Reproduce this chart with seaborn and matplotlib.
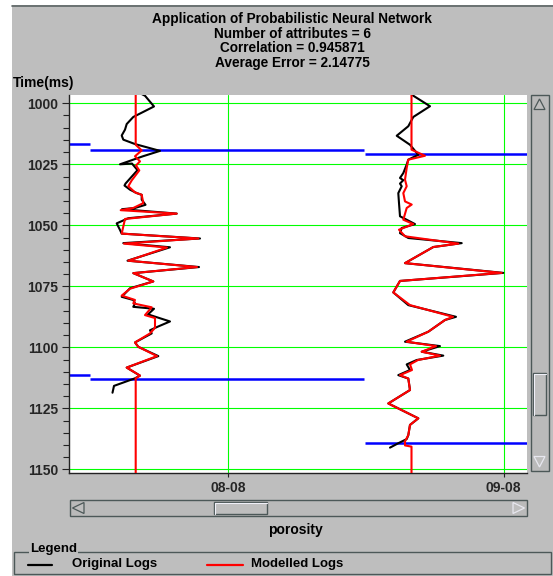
import numpy as np
import pandas as pd
import seaborn as sns
import matplotlib
matplotlib.use("Agg")
import matplotlib.pyplot as plt
from matplotlib.patches import Rectangle, Polygon
from matplotlib.ticker import MultipleLocator

# ---------------------------------------------------------------- data
TITLE_LINES = [
    "Application of Probabilistic Neural Network",
    "Number of attributes = 6",
    "Correlation = 0.945871",
    "Average Error = 2.14775",
]
WELLS = ["08-08", "09-08"]

# well 08-08 : original porosity log (time in ms, deflection from track baseline)
W1_ORIG_T = [995.5, 996.9, 1001.3, 1005.6, 1008.5, 1010.8, 1013.2, 1014.9, 1016.7, 1019.5,
             1021.7, 1025.0, 1024.7, 1027.4, 1032.9, 1033.7, 1035.4, 1036.8, 1037.5, 1039.5,
             1041.6, 1042.9, 1043.4, 1045.2, 1047.1, 1049.2, 1051.9, 1053.4, 1055.4, 1057.3,
             1059.0, 1064.5, 1067.1, 1069.6, 1073.0, 1075.8, 1079.3, 1080.6, 1082.0, 1083.4,
             1084.2, 1086.5, 1089.4, 1091.5, 1093.0, 1094.3, 1098.0, 1099.8, 1103.6, 1108.3,
             1111.6, 1112.7, 1115.8, 1118.6]
W1_ORIG_P = [2.6, 9.3, 18.3, -2.4, -9.0, -10.7, -14.0, -12.4, -0.7, 24.3,
             7.3, -15.7, -3.7, 1.8, -10.2, -11.2, -5.7, 1.0, 6.0, 6.0,
             9.8, -0.7, -13.7, 41.0, -7.4, -19.0, -15.7, -14.0, 64.3, -12.4,
             34.3, -8.2, 63.3, -2.4, 17.6, -5.7, -14.0, -2.4, -0.7, -2.4,
             18.3, 12.3, 34.3, 22.3, 14.3, 16.0, -0.7, 2.6, 22.6, -9.0,
             4.3, -0.7, -21.7, -23.2]

# well 08-08 : modelled porosity log
W1_MOD_T = [995.0, 1017.0, 1019.3, 1021.7, 1023.8, 1025.5, 1027.5, 1031.6, 1034.0, 1036.5,
            1037.5, 1040.9, 1042.9, 1043.8, 1045.2, 1047.4, 1053.4, 1055.4, 1057.5, 1059.1,
            1064.5, 1067.1, 1069.6, 1073.0, 1076.0, 1078.8, 1080.6, 1082.0, 1083.6, 1086.8,
            1088.0, 1092.0, 1094.3, 1098.0, 1099.8, 1103.6, 1108.3, 1111.6, 1112.7, 1153.0]
W1_MOD_P = [0.0, 0.0, 6.0, -0.7, 4.3, 0.3, 3.6, -4.0, -7.4, -0.7,
            6.0, 7.6, -2.4, -15.0, 41.0, -10.7, -14.0, 62.6, -11.7, 31.3,
            -7.4, 61.3, -2.4, 17.6, -5.7, -14.0, -0.7, -2.4, 16.0, 9.3,
            19.3, 19.3, 14.3, -0.7, 2.6, 21.3, -9.0, 4.3, 0.0, 0.0]

# well 09-08 : original porosity log
W2_ORIG_T = [995.5, 996.9, 1001.2, 1005.6, 1009.4, 1013.3, 1017.0, 1021.1, 1023.1, 1025.1,
             1028.6, 1030.6, 1031.5, 1032.9, 1034.0, 1036.8, 1040.9, 1046.3, 1049.5, 1051.1,
             1053.2, 1055.2, 1057.3, 1058.9, 1065.5, 1069.5, 1072.8, 1077.5, 1082.7, 1087.5,
             1088.8, 1093.6, 1097.7, 1099.5, 1101.8, 1103.4, 1105.2, 1107.0, 1109.3, 1111.4,
             1112.8, 1117.5, 1123.0, 1129.1, 1131.8, 1136.0, 1137.6, 1139.3, 1141.1]
W2_ORIG_P = [-0.5, 1.8, 18.5, 1.8, -3.2, -14.8, -1.5, 6.8, -3.2, -4.8,
             -8.2, -11.5, -8.2, -11.5, -9.8, -13.2, -12.5, -11.5, 3.5, -9.8,
             -11.5, -3.2, 50.2, 21.8, -6.5, 91.8, -11.5, -18.2, -3.2, 44.5,
             33.5, 16.8, -6.5, 28.5, 10.2, 31.8, 5.2, -4.8, -1.5, -13.2,
             -3.2, -1.5, -23.2, 6.8, -1.5, -3.2, -4.8, -13.2, -21.5]

# well 09-08 : modelled porosity log
W2_MOD_T = [995.0, 1019.0, 1021.5, 1023.1, 1026.5, 1031.3, 1034.0, 1036.8, 1040.2, 1041.5,
            1042.9, 1047.7, 1049.5, 1051.8, 1054.5, 1057.5, 1058.9, 1065.5, 1069.5, 1072.8,
            1077.5, 1082.7, 1087.5, 1088.8, 1093.6, 1097.7, 1099.5, 1101.8, 1103.4, 1105.2,
            1107.0, 1109.3, 1111.4, 1112.8, 1117.5, 1123.0, 1129.1, 1131.8, 1136.0, 1138.5,
            1140.2, 1140.7, 1153.0]
W2_MOD_P = [0.0, 0.0, 13.5, -3.2, -4.8, -6.5, -4.8, -8.2, -6.5, 0.2,
            -4.8, -8.2, 1.8, -12.5, -6.5, 46.8, 21.8, -6.5, 90.2, -11.5,
            -18.2, -1.5, 41.5, 33.5, 16.8, -4.8, 24.5, 10.2, 28.5, 6.5,
            -1.5, 0.5, -11.5, -3.2, -1.5, -23.2, 6.8, -1.5, -3.2, -6.5,
            -6.5, 0.0, 0.0]

# horizon picks (ms) across the three display segments
HORIZON_TOP = [1016.8, 1019.3, 1020.9]
HORIZON_BASE = [1111.5, 1113.1, 1139.3]

# ---------------------------------------------------------------- layout
W_PX, H_PX = 553, 576
PANEL = "#bebebe"
DARK = "#4c5858"
TRACK_BASE = [66.7, 342.5]          # baseline of each well track on the porosity axis
WELL_TICK = [159.0, 434.5]          # well label positions on the porosity axis
X_RANGE = (0, 458)
Y_RANGE = (1151.5, 996.6)
SEGMENTS = [(0, 21), (21, 295), (296, 458)]


def frame(times, values, base, well, kind):
    return pd.DataFrame({"time": times,
                         "porosity": np.asarray(values) + base,
                         "well": well, "log": kind})


orig = pd.concat([frame(W1_ORIG_T, W1_ORIG_P, TRACK_BASE[0], WELLS[0], "Original Logs"),
                  frame(W2_ORIG_T, W2_ORIG_P, TRACK_BASE[1], WELLS[1], "Original Logs")])
mod = pd.concat([frame(W1_MOD_T, W1_MOD_P, TRACK_BASE[0], WELLS[0], "Modelled Logs"),
                 frame(W2_MOD_T, W2_MOD_P, TRACK_BASE[1], WELLS[1], "Modelled Logs")])

sns.set_theme(style="white")
plt.rcParams["font.family"] = ["Liberation Sans", "DejaVu Sans"]
plt.rcParams["font.weight"] = "bold"
plt.rcParams["text.color"] = "black"

fig = plt.figure(figsize=(W_PX / 100, H_PX / 100), dpi=100, facecolor="white")

# window chrome in pixel coordinates
bg = fig.add_axes([0, 0, 1, 1], zorder=0)
bg.set_xlim(0, W_PX)
bg.set_ylim(H_PX, 0)
bg.axis("off")
bg.add_patch(Rectangle((12, 5), W_PX - 12, H_PX - 5, facecolor=PANEL, edgecolor="none"))
bg.plot([12, W_PX], [5.5, 5.5], color="#5c6464", lw=1.2)

for i, line in enumerate(TITLE_LINES):
    bg.text(292, 19 + i * 14.5, line, ha="center", va="center", fontsize=9.8, fontweight="bold")
bg.text(13, 83, "Time(ms)", ha="left", va="center", fontsize=10, fontweight="bold")
bg.text(295.6, 530, "porosity", ha="center", va="center", fontsize=10, fontweight="bold")

# vertical scrollbar
bg.add_patch(Rectangle((530.5, 95), 18, 376, facecolor="#bababa", edgecolor=DARK, lw=1))
bg.add_patch(Polygon([(539.5, 99), (534, 109.5), (545, 109.5)], closed=True,
                     facecolor=PANEL, edgecolor=DARK, lw=0.9))
bg.add_patch(Polygon([(534, 456.5), (545, 456.5), (539.5, 467)], closed=True,
                     facecolor=PANEL, edgecolor="#e8e8f0", lw=0.9))
bg.add_patch(Rectangle((533, 373), 13, 42, facecolor=PANEL, edgecolor=DARK, lw=1))
bg.plot([533.5, 533.5, 545.5], [414.5, 373.5, 373.5], color="#f0f0f8", lw=0.8)

# horizontal scrollbar
bg.add_patch(Rectangle((70, 500), 457, 16, facecolor="#bababa", edgecolor=DARK, lw=1))
bg.add_patch(Polygon([(72.5, 508), (84, 502.5), (84, 513.5)], closed=True,
                     facecolor=PANEL, edgecolor=DARK, lw=0.9))
bg.add_patch(Polygon([(524.5, 508), (513, 502.5), (513, 513.5)], closed=True,
                     facecolor=PANEL, edgecolor="#e8e8f0", lw=0.9))
bg.add_patch(Rectangle((214, 502), 53, 12, facecolor=PANEL, edgecolor=DARK, lw=1))
bg.plot([214.5, 214.5, 266.5], [513.5, 502.5, 502.5], color="#f0f0f8", lw=0.8)

# legend group box
bg.add_patch(Rectangle((14, 552), 537, 22, facecolor="none", edgecolor=DARK, lw=1))
bg.text(30, 549, "Legend", ha="left", va="center", fontsize=9.5, fontweight="bold",
        bbox=dict(facecolor=PANEL, edgecolor="none", pad=1))
bg.plot([27.5, 52], [564.5, 564.5], color="black", lw=1.6)
bg.text(71.6, 564.5, "Original Logs", ha="left", va="center", fontsize=9.5, fontweight="bold")
bg.plot([207, 243], [564.5, 564.5], color="red", lw=1.6)
bg.text(251, 564.5, "Modelled Logs", ha="left", va="center", fontsize=9.5, fontweight="bold")

# log display
ax = fig.add_axes([69 / W_PX, 1 - 473 / H_PX, 458 / W_PX, 378 / H_PX], zorder=2)
ax.set_facecolor("white")
ax.set_axisbelow(True)

for t_vals in (HORIZON_TOP, HORIZON_BASE):
    for t, (x0, x1) in zip(t_vals, SEGMENTS):
        ax.hlines(t, x0, x1, color="#0000ff", lw=1.8, zorder=2)

sns.lineplot(data=orig, x="porosity", y="time", units="well", estimator=None, sort=False,
             color="black", lw=1.5, ax=ax, zorder=3)
sns.lineplot(data=mod, x="porosity", y="time", units="well", estimator=None, sort=False,
             color="red", lw=1.5, ax=ax, zorder=4)

ax.set_xlim(*X_RANGE)
ax.set_ylim(*Y_RANGE)
ax.set_xlabel("")
ax.set_ylabel("")
ax.set_yticks(np.arange(1000, 1151, 25))
ax.yaxis.set_minor_locator(MultipleLocator(5))
ax.set_xticks(WELL_TICK)
ax.set_xticklabels(WELLS)
ax.grid(True, which="major", color="#00ff00", lw=0.8)
ax.grid(False, which="minor")

for side in ("top", "right"):
    ax.spines[side].set_visible(False)
for side in ("left", "bottom"):
    ax.spines[side].set_color("#222222")
    ax.spines[side].set_linewidth(1.0)

ax.tick_params(axis="y", which="major", direction="out", length=5, width=0.8,
               color="#222222", labelsize=10, pad=3, left=True)
ax.tick_params(axis="y", which="minor", direction="out", length=4, width=0.8,
               color="#222222", left=True)
ax.tick_params(axis="x", which="major", direction="out", length=3, width=0.8,
               color="#222222", labelsize=10, pad=2.5, bottom=True)
for lab in ax.get_xticklabels() + ax.get_yticklabels():
    lab.set_fontweight("bold")

fig.savefig("out.png", dpi=100, facecolor="white")
